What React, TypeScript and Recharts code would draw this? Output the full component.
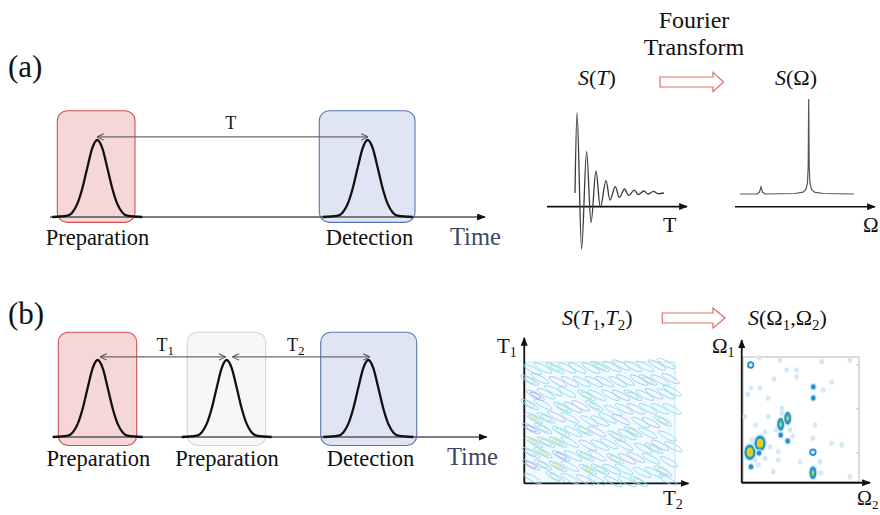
import React from "react";
import {
  ComposedChart,
  Line,
  Scatter,
  XAxis,
  YAxis,
  ReferenceArea,
  ReferenceLine,
  Rectangle,
} from "recharts";

const SERIF = "'Liberation Serif', 'DejaVu Serif', serif";
const INK = "#111";

// Gaussian pulse envelope: offset from the pulse centre (time units) and amplitude
const pulseOffsets = [-4.5, -3, -2.5, -2, -1.5, -1, -0.5, 0, 0.5, 1, 1.5, 2, 2.5, 3, 4.5];
const pulseAmps = [0, 0.018, 0.06, 0.17, 0.37, 0.64, 0.895, 1, 0.895, 0.64, 0.37, 0.17, 0.06, 0.018, 0];

// (a) one delay T
const pulsesA = [5.03, 32.07];
const windowsA = [
  { from: 1.03, to: 8.8, low: -0.07, high: 1.38, kind: "prep" },
  { from: 27.23, to: 36.8, low: -0.07, high: 1.38, kind: "det" },
];
const delaysA = [[5.0, 32.1]];

// (b) two delays T1, T2
const pulsesB = [5.07, 17.97, 32.13];
const windowsB = [
  { from: 1.13, to: 8.97, low: -0.11, high: 1.36, kind: "prep" },
  { from: 14.03, to: 21.87, low: -0.11, high: 1.36, kind: "idle" },
  { from: 27.37, to: 36.97, low: -0.11, high: 1.36, kind: "det" },
];
const delaysB = [
  [5.3, 17.87],
  [18.53, 32.3],
];

// damped signal S(T): extrema of the ringing
const sigT = [0, 0.2, 0.66, 1.16, 1.6, 2.1, 2.53, 3.1, 3.5, 4.03, 4.43, 4.96, 5.36, 5.93, 6.33, 6.9, 7.3, 7.85, 8.3, 8.9];
const sigS = [0, 1, -0.7, 0.52, -0.37, 0.275, -0.18, 0.154, -0.09, 0.08, -0.055, 0.05, -0.03, 0.035, -0.02, 0.025, -0.015, 0.02, -0.01, 0];

// spectrum S(Omega)
const specW = [0, 1.7, 1.95, 2.1, 2.25, 2.5, 5.5, 6.3, 6.6, 6.75, 6.82, 6.87, 6.92, 6.99, 7.14, 7.44, 8.3, 11.4];
const specS = [0, 0, 0.02, 0.075, 0.02, 0, 0.005, 0.02, 0.05, 0.12, 0.3, 1, 0.3, 0.12, 0.05, 0.02, 0.005, 0];

// S(T1,T2) contour cells: [T2, T1, level]
const contourCells = [
  [94, 79, 1], [88, 78, -1],
  [80, 77, 1], [97, 69, -1], [72, 77, 1], [90, 68, 1],
  [64, 78, 1], [82, 68, 2], [98, 61, 1], [58, 77, 1], [76, 68, -1], [94, 59, 1],
  [50, 77, 2], [67, 68, 1], [86, 59, -1], [44, 76, -1], [62, 67, 1], [80, 58, 1], [98, 49, 1],
  [35, 76, 1], [53, 67, -1], [72, 58, 2], [90, 49, 1], [28, 76, 1], [46, 67, 1], [64, 58, -1], [82, 49, 1],
  [20, 76, 2], [38, 67, 1], [57, 58, 1], [74, 49, -1], [92, 41, 2],
  [12, 76, 1], [30, 67, -1], [48, 58, 1], [66, 49, 1], [84, 40, -1],
  [5, 75, 1], [22, 67, -1], [41, 58, 2], [59, 48, 1], [77, 40, 1], [95, 31, 1],
  [10, 69, 1], [28, 60, 1], [46, 51, 2], [64, 42, -1], [82, 33, 1], [99, 24, 1],
  [3, 68, 2], [19, 61, 1], [37, 51, -1], [55, 43, 1], [72, 34, 2], [90, 25, -1],
  [14, 59, 1], [32, 50, -1], [50, 41, 1], [68, 32, 1], [86, 23, 2],
  [7, 58, -2], [25, 50, 2], [43, 41, 1], [61, 31, 2], [79, 23, 1], [96, 14, 1],
  [12, 52, 1], [30, 43, 1], [48, 34, -1], [66, 25, 1], [84, 16, 1],
  [3, 52, 2], [21, 44, -1], [39, 35, 2], [56, 26, 1], [74, 17, -1], [92, 8, 2],
  [14, 43, 2], [32, 34, 1], [50, 25, 1], [68, 16, -1], [86, 7, 1],
  [6, 43, 3], [24, 34, 2], [42, 25, -1], [60, 16, 2], [78, 7, 1], [95, 2, 1],
  [12, 36, 2], [30, 27, 1], [48, 18, -1], [66, 9, 1],
  [4, 36, -2], [22, 27, 3], [40, 18, 2], [58, 9, 1], [76, 1, 2],
  [14, 27, 2], [32, 18, 1], [50, 9, 2], [68, 1, 1],
  [6, 27, 3], [24, 18, -2], [42, 9, 3], [59, 1, 1],
  [12, 20, 3], [30, 11, 1], [48, 2, 1],
  [4, 20, 2], [22, 11, 3], [40, 2, -1],
  [12, 12, 2], [30, 3, 1],
  [4, 12, -2], [20, 4, 2],
  [5, 3, 1],
];

// S(Omega1,Omega2) peaks: [Omega2, Omega1, kind] (0 faint, 1 dot, 2 ring, 3 elongated, 4 strong)
const peakCells = [
  [0.06, 0.238, 4], [0.147, 0.31, 4], [0.325, 0.462, 3], [0.385, 0.51, 3], [0.603, 0.074, 3],
  [0.066, 0.936, 2], [0.603, 0.238, 2],
  [0.069, 0.122, 1], [0.138, 0.232, 1], [0.606, 0.762, 1], [0.606, 0.672, 1], [0.325, 0.376, 1], [0.385, 0.328, 1],
  [0.138, 0.994, 0], [0.377, 0.896, 0], [0.463, 0.896, 0], [0.463, 0.842, 0], [0.267, 0.824, 0],
  [0.69, 0.736, 0], [0.765, 0.8, 0], [0.216, 0.67, 0], [0.147, 0.752, 0], [0.069, 0.752, 0],
  [0.041, 0.702, 0], [0.109, 0.456, 0], [0.218, 0.522, 0], [0.334, 0.59, 0], [0.334, 0.55, 0],
  [0.621, 0.456, 0], [0.603, 0.35, 0], [0.765, 0.31, 0], [0.851, 0.296, 0], [0.103, 0.176, 0],
  [0.132, 0.136, 0], [0.304, 0.242, 0], [0.304, 0.176, 0], [0.261, 0.082, 0], [0.491, 0.162, 0],
  [0.664, 0.162, 0], [0.672, 0.07, 0], [0.922, 0.042, 0], [0.922, 0.976, 0], [0.678, 0.962, 0],
  [0.319, 0.976, 0], [0.017, 0.522, 0], [0.19, 0.4, 0], [0.233, 0.28, 0], [0.078, 0.336, 0],
  [0.19, 0.19, 0], [0.405, 0.416, 0], [0.284, 0.416, 0], [0.431, 0.368, 0],
];
const frameTicks = [0.232, 0.584, 0.936];

const windowStyle: Record<string, { fill: string; stroke: string }> = {
  prep: { fill: "#f6d6d7", stroke: "#d24f4f" },
  idle: { fill: "#f7f7f7", stroke: "#d4d4d4" },
  det: { fill: "#dfe5f3", stroke: "#5a76ae" },
};

const pulseAt = (c: number) => pulseOffsets.map((o, i) => ({ t: c + o, a: pulseAmps[i] }));
const signal = sigT.map((t, i) => ({ t, s: sigS[i] }));
const spectrum = specW.map((w, i) => ({ t: w, s: specS[i] }));
const contours = contourCells.map(([x, y, lvl]) => ({ x, y, lvl }));
const peaks = peakCells.map(([x, y, lvl]) => ({ x, y, lvl }));

const arrowLine = (stroke: string, width: number, marker: string, both = false) => (p: any) => (
  <line
    x1={p.x1}
    y1={p.y1}
    x2={p.x2}
    y2={p.y2}
    stroke={stroke}
    strokeWidth={width}
    markerEnd={`url(#${marker})`}
    markerStart={both ? `url(#${marker})` : undefined}
  />
);

const rounded = (p: any) => <Rectangle {...p} radius={10} />;

const layer: React.CSSProperties = { position: "absolute", left: 0, top: 0 };

function Timeline({ top, bottom, pulses, windows, delays, axisFrom, axisTo }: any) {
  return (
    <div style={layer}>
      <ComposedChart width={880} height={515} margin={{ top, right: 383, bottom, left: 47 }}>
        <XAxis type="number" dataKey="t" domain={[0, 45]} hide allowDuplicatedCategory={false} />
        <YAxis type="number" domain={[0, 1]} hide />
        {windows.map((w: any, i: number) => (
          <ReferenceArea
            key={i}
            x1={w.from}
            x2={w.to}
            y1={w.low}
            y2={w.high}
            ifOverflow="visible"
            fill={windowStyle[w.kind].fill}
            fillOpacity={1}
            stroke={windowStyle[w.kind].stroke}
            strokeWidth={1.1}
            shape={rounded}
          />
        ))}
        <ReferenceLine
          segment={[{ x: axisFrom, y: 0 }, { x: axisTo, y: 0 }]}
          ifOverflow="visible"
          shape={arrowLine("#555", 1.4, "headFill")}
        />
        {delays.map((d: number[], i: number) => (
          <ReferenceLine
            key={i}
            segment={[{ x: d[0], y: 1.04 }, { x: d[1], y: 1.04 }]}
            ifOverflow="visible"
            shape={arrowLine("#6a6a6a", 1.3, "headOpen", true)}
          />
        ))}
        {pulses.map((c: number, i: number) => (
          <Line
            key={i}
            data={pulseAt(c)}
            dataKey="a"
            type="monotone"
            stroke={INK}
            strokeWidth={2.3}
            dot={false}
            isAnimationActive={false}
          />
        ))}
      </ComposedChart>
    </div>
  );
}

function SignalPlot() {
  return (
    <div style={layer}>
      <ComposedChart width={880} height={515} margin={{ top: 113, right: 193, bottom: 262, left: 547 }}>
        <XAxis type="number" dataKey="t" domain={[-2.8, 11.2]} hide />
        <YAxis type="number" domain={[-0.75, 1]} hide />
        <ReferenceLine
          segment={[{ x: -2.8, y: -0.17 }, { x: 11.2, y: -0.17 }]}
          ifOverflow="visible"
          shape={arrowLine(INK, 1.6, "headFill")}
        />
        <Line data={signal} dataKey="s" type="monotone" stroke="#3a3a3a" strokeWidth={1.3} dot={false} isAnimationActive={false} />
      </ComposedChart>
    </div>
  );
}

function SpectrumPlot() {
  return (
    <div style={layer}>
      <ComposedChart width={880} height={515} margin={{ top: 99, right: 5, bottom: 308, left: 735 }}>
        <XAxis type="number" dataKey="t" domain={[-0.5, 13.5]} hide />
        <YAxis type="number" domain={[-0.137, 1]} hide />
        <ReferenceLine
          segment={[{ x: -0.5, y: -0.134 }, { x: 13.5, y: -0.134 }]}
          ifOverflow="visible"
          shape={arrowLine(INK, 1.6, "headFill")}
        />
        <Line data={spectrum} dataKey="s" type="linear" stroke="#555" strokeWidth={1.2} dot={false} isAnimationActive={false} />
      </ComposedChart>
    </div>
  );
}

// contour rings, outermost first
const posRing = ["#8ed4ef", "#9fe0bd", "#dde27a"];
const negRing = ["#a9bdf3", "#94a5ee"];
const ringRx = [10, 6, 2.8];
const ringRy = [2.6, 1.7, 0.9];

const ContourShape = (p: any) => {
  const { cx, cy, payload } = p;
  const n = Math.abs(payload.lvl);
  const colors = payload.lvl < 0 ? negRing : posRing;
  return (
    <g transform={`rotate(28 ${cx} ${cy})`}>
      {Array.from({ length: n }, (_, k) => (
        <ellipse key={k} cx={cx} cy={cy} rx={ringRx[k]} ry={ringRy[k]} fill="none" stroke={colors[k]} strokeWidth={0.8} />
      ))}
    </g>
  );
};

function ContourPlot() {
  return (
    <div style={layer}>
      <ComposedChart width={880} height={515} margin={{ top: 362, right: 205, bottom: 32, left: 525 }}>
        <XAxis type="number" dataKey="x" domain={[0, 100]} hide />
        <YAxis type="number" dataKey="y" domain={[0, 80]} hide />
        <ReferenceArea x1={0} x2={100} y1={0} y2={80} fill="#f1fafd" fillOpacity={1} stroke="#c4e6f4" strokeWidth={1} />
        <Scatter data={contours} shape={ContourShape} isAnimationActive={false} />
        <ReferenceLine
          segment={[{ x: -0.5, y: -0.3 }, { x: 109, y: -0.3 }]}
          ifOverflow="visible"
          shape={arrowLine(INK, 1.8, "headFill")}
        />
        <ReferenceLine
          segment={[{ x: -0.5, y: -0.3 }, { x: -0.5, y: 96 }]}
          ifOverflow="visible"
          shape={arrowLine(INK, 1.8, "headFill")}
        />
      </ComposedChart>
    </div>
  );
}

const blobLayers: Record<number, { rx: number; ry: number; fill: string }[]> = {
  0: [{ rx: 2.4, ry: 2.8, fill: "#d4e8f6" }],
  1: [
    { rx: 3.3, ry: 3.7, fill: "#c6e2f4" },
    { rx: 2.2, ry: 2.6, fill: "#1f8fd0" },
  ],
  2: [
    { rx: 3.6, ry: 3.8, fill: "#1f8fd0" },
    { rx: 1.9, ry: 2.1, fill: "#d2e8f6" },
  ],
  3: [
    { rx: 4.6, ry: 7.6, fill: "#c6e2f4" },
    { rx: 3.3, ry: 6.2, fill: "#1b8fcb" },
    { rx: 2.1, ry: 4.2, fill: "#35b5ac" },
    { rx: 1.1, ry: 2.1, fill: "#d8d23c" },
  ],
  4: [
    { rx: 7, ry: 9.5, fill: "#c6e2f4" },
    { rx: 5.4, ry: 7.6, fill: "#1a88c6" },
    { rx: 4.1, ry: 6, fill: "#2fb3a8" },
    { rx: 3, ry: 4.3, fill: "#f4d21c" },
    { rx: 1.6, ry: 2.4, fill: "#f6bf0a" },
  ],
};

const PeakShape = (p: any) => {
  const { cx, cy, payload } = p;
  return (
    <g>
      {blobLayers[payload.lvl].map((l, k) => (
        <ellipse key={k} cx={cx} cy={cy} rx={l.rx} ry={l.ry} fill={l.fill} />
      ))}
    </g>
  );
};

function PeakPlot() {
  return (
    <div style={layer}>
      <ComposedChart width={880} height={515} margin={{ top: 357, right: 21, bottom: 33, left: 743 }}>
        <XAxis type="number" dataKey="x" domain={[0, 1]} hide />
        <YAxis type="number" dataKey="y" domain={[0, 1]} hide />
        <ReferenceArea x1={0} x2={1} y1={0} y2={1} fill="#ffffff" fillOpacity={1} stroke="#b5b5b5" strokeWidth={1} />
        {frameTicks.map((v) => (
          <ReferenceLine key={v} segment={[{ x: 1, y: v }, { x: 0.975, y: v }]} stroke="#b5b5b5" strokeWidth={1} />
        ))}
        <Scatter data={peaks} shape={PeakShape} isAnimationActive={false} />
        <ReferenceLine
          segment={[{ x: -0.011, y: -0.006 }, { x: 1.095, y: -0.006 }]}
          ifOverflow="visible"
          shape={arrowLine(INK, 1.8, "headFill")}
        />
        <ReferenceLine
          segment={[{ x: -0.011, y: -0.006 }, { x: -0.011, y: 1.136 }]}
          ifOverflow="visible"
          shape={arrowLine(INK, 1.8, "headFill")}
        />
      </ComposedChart>
    </div>
  );
}

function Annotations() {
  const t = { fontFamily: SERIF, fill: INK };
  const it = { fontStyle: "italic" as const };
  return (
    <svg width={880} height={515} style={{ ...layer, pointerEvents: "none" }}>
      <defs>
        <marker id="headFill" viewBox="0 0 10 8" refX="9" refY="4" markerWidth="9" markerHeight="7" markerUnits="userSpaceOnUse" orient="auto-start-reverse">
          <path d="M0,0 L10,4 L0,8 z" fill={INK} />
        </marker>
        <marker id="headOpen" viewBox="0 0 10 10" refX="9.5" refY="5" markerWidth="8" markerHeight="8" markerUnits="userSpaceOnUse" orient="auto-start-reverse">
          <path d="M1,1 L9.5,5 L1,9" fill="none" stroke="#555" strokeWidth={1.3} />
        </marker>
      </defs>

      <text x={8} y={77} fontSize={31} {...t}>(a)</text>
      <text x={8} y={324} fontSize={31} {...t}>(b)</text>

      <text x={230.7} y={128.5} fontSize={18} textAnchor="middle" {...t}>T</text>
      <text x={156.5} y={351} fontSize={18} {...t}>
        T<tspan fontSize={13} dy={4}>1</tspan>
      </text>
      <text x={287} y={351} fontSize={18} {...t}>
        T<tspan fontSize={13} dy={4}>2</tspan>
      </text>

      <text x={97.5} y={245} fontSize={22.5} textAnchor="middle" {...t}>Preparation</text>
      <text x={369.5} y={245} fontSize={22.5} textAnchor="middle" {...t}>Detection</text>
      <text x={450} y={244.5} fontSize={24.5} fontFamily={SERIF} fill="#3c4766">Time</text>

      <text x={98.3} y={466} fontSize={22.5} textAnchor="middle" {...t}>Preparation</text>
      <text x={227} y={466} fontSize={22.5} textAnchor="middle" {...t}>Preparation</text>
      <text x={370.5} y={466} fontSize={22.5} textAnchor="middle" {...t}>Detection</text>
      <text x={447} y={465} fontSize={24.5} fontFamily={SERIF} fill="#3c4766">Time</text>

      <text x={694} y={28} fontSize={24} textAnchor="middle" {...t}>Fourier</text>
      <text x={694} y={55} fontSize={24} textAnchor="middle" {...t}>Transform</text>
      <polygon points="660,77 713,77 713,72.3 723.5,82 713,91.7 713,87 660,87" fill="#fff" stroke="#e06a6a" strokeWidth={1.2} />
      <polygon points="662.3,313 713,313 713,308 725,318 713,328 713,323 662.3,323" fill="#fff" stroke="#e06a6a" strokeWidth={1.2} />

      <text x={578} y={85} fontSize={22} {...t}>
        <tspan {...it}>S</tspan>(<tspan {...it}>T</tspan>)
      </text>
      <text x={775} y={85} fontSize={22} {...t}>
        <tspan {...it}>S</tspan>(Ω)
      </text>
      <text x={663} y={232} fontSize={22} {...t}>T</text>
      <text x={863} y={232} fontSize={21} {...t}>Ω</text>

      <text x={562} y={325} fontSize={22} {...t}>
        <tspan {...it}>S</tspan>(<tspan {...it}>T</tspan>
        <tspan fontSize={15} dy={5}>1</tspan>
        <tspan dy={-5}>,</tspan>
        <tspan {...it}>T</tspan>
        <tspan fontSize={15} dy={5}>2</tspan>
        <tspan dy={-5}>)</tspan>
      </text>
      <text x={748} y={325} fontSize={22} {...t}>
        <tspan {...it}>S</tspan>(Ω
        <tspan fontSize={15} dy={5}>1</tspan>
        <tspan dy={-5}>,Ω</tspan>
        <tspan fontSize={15} dy={5}>2</tspan>
        <tspan dy={-5}>)</tspan>
      </text>
      <text x={497} y={353} fontSize={21} {...t}>
        T<tspan fontSize={14} dy={4}>1</tspan>
      </text>
      <text x={663} y={505} fontSize={21} {...t}>
        T<tspan fontSize={14} dy={4}>2</tspan>
      </text>
      <text x={712} y={353} fontSize={21} {...t}>
        Ω<tspan fontSize={14} dy={4}>1</tspan>
      </text>
      <text x={857} y={505} fontSize={20} {...t}>
        Ω<tspan fontSize={13} dy={4}>2</tspan>
      </text>
    </svg>
  );
}

export default function App() {
  return (
    <div style={{ position: "absolute", left: 0, top: 0, width: 880, height: 515, background: "#fff", overflow: "hidden" }}>
      <Timeline top={140} bottom={298} pulses={pulsesA} windows={windowsA} delays={delaysA} axisFrom={0.3} axisTo={43.8} />
      <Timeline top={360} bottom={78} pulses={pulsesB} windows={windowsB} delays={delaysB} axisFrom={0.57} axisTo={43.97} />
      <SignalPlot />
      <SpectrumPlot />
      <ContourPlot />
      <PeakPlot />
      <Annotations />
    </div>
  );
}
